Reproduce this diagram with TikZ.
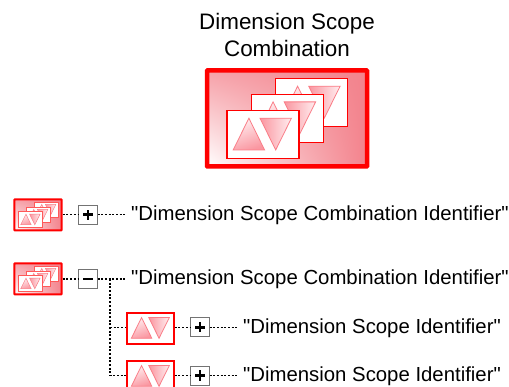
\documentclass[tikz,border=0pt]{standalone}
\usetikzlibrary{shadings}
\usepackage{fontspec}
\setmainfont{Liberation Sans}[Ligatures=TeXOff]
\definecolor{rd}{RGB}{255,0,0}
\definecolor{sal}{RGB}{243,130,140}
\definecolor{tri}{RGB}{250,125,135}
\definecolor{trid}{RGB}{250,150,160}
\definecolor{tril}{RGB}{255,238,240}
\tikzset{
  conn/.style={line width=1.2pt,dash pattern=on 2pt off 1.7pt,black},
  lab/.style={inner sep=0pt,font=\fontsize{20.35}{24}\selectfont,anchor=base west,text=black},
  btn/.style={draw=black!55!white,line width=1pt,fill=white,minimum width=19pt,minimum height=19pt,inner sep=0pt,outer sep=0pt},
  iconbox/.style={minimum width=48.4pt,minimum height=32pt,inner sep=0pt,outer sep=0pt,draw=none},
}
\newcommand{\ucard}[6][rd]{% [colour] x y scale border tri-stroke
 \begin{scope}[shift={(#2,#3)},x=#4pt,y=-#4pt]
  \draw[#1,fill=white,line width=#5pt] (0,0) rectangle (73.3,48.7);
  \shade[left color=tril,right color=trid,shading angle=20]
     (6.3,40)--(22.3,7.6)--(38.3,40)--cycle;
  \draw[tri,line width=#6pt] (6.3,40)--(22.3,7.6)--(38.3,40)--cycle;
  \shade[shading angle=-30,left color=trid,right color=tril]
     (33.6,7.6)--(65.6,7.6)--(49.6,40)--cycle;
  \draw[tri,line width=#6pt] (33.6,7.6)--(65.6,7.6)--(49.6,40)--cycle;
 \end{scope}}
\newcommand{\ubg}[5]{% x y w h lw
  \shade[lower left=white,lower right=sal,upper left=sal!75!white,upper right=sal]
     (#1,#2) rectangle ({#1+#3},{#2+#4});
  \draw[rd,line width=#5pt,rounded corners=0.6pt] (#1,#2) rectangle ({#1+#3},{#2+#4});}
\newcommand{\usmall}[1]{% y offset
  \ubg{14.3}{199.3+#1}{47.4}{31}{2}
  \ucard[rd!65!white]{34.5}{202+#1}{0.325}{0.7}{0.5}
  \ucard[rd!65!white]{26.5}{207+#1}{0.325}{0.7}{0.5}
  \ucard[rd!65!white]{18.7}{211.7+#1}{0.325}{0.7}{0.5}}
\newcommand{\mkplus}[1]{\fill[black] ([xshift=-5.2pt,yshift=-1.4pt]#1.center) rectangle ([xshift=5.2pt,yshift=1.4pt]#1.center);
 \fill[black] ([xshift=-1.4pt,yshift=-5.2pt]#1.center) rectangle ([xshift=1.4pt,yshift=5.2pt]#1.center);}
\newcommand{\mkminus}[1]{\fill[black] ([xshift=-5.2pt,yshift=-1.2pt]#1.center) rectangle ([xshift=5.2pt,yshift=1.2pt]#1.center);}
\begin{document}
\begin{tikzpicture}[x=1pt,y=-1pt]
\useasboundingbox (0,0) rectangle (509,387);
\clip (0,0) rectangle (509,387);
\node[inner sep=0pt,align=center,font=\fontsize{22.4}{27}\selectfont,anchor=base] (title) at (287,57) {Dimension Scope\\Combination};
\ubg{207}{70.5}{160}{96}{4.5}
\ucard{275.7}{78.7}{0.982}{1.3}{0.8}
\ucard{251.2}{94.4}{0.982}{1.3}{0.8}
\ucard{227}{110.7}{0.982}{1.3}{0.8}

% row 1
\usmall{0}
\node[iconbox,minimum width=49.4pt] (i1) at (38,214.8) {};
\node[btn] (b1) at (88,214.8) {};
\mkplus{b1}
\node[lab] (t1) at (131,220.8) {"Dimension Scope Combination Identifier"};
% row 2
\usmall{64}
\node[iconbox,minimum width=49.4pt] (i2) at (38,278.8) {};
\node[btn] (b2) at (88,279) {};
\mkminus{b2}
\node[lab] (t2) at (131,284.8) {"Dimension Scope Combination Identifier"};
% row 3
\ucard{127.3}{312.7}{0.64}{2}{0.8}
\node[iconbox] (i3) at (150.5,327.8) {};
\node[btn] (b3) at (200,327.3) {};
\mkplus{b3}
\node[lab] (t3) at (243,333.3) {"Dimension Scope Identifier"};
% row 4
\ucard{127.3}{360.7}{0.64}{2}{0.8}
\node[iconbox] (i4) at (150.5,375.8) {};
\node[btn] (b4) at (200,375.6) {};
\mkplus{b4}
\node[lab] (t4) at (243,381.5) {"Dimension Scope Identifier"};
\coordinate (j) at (110,279);
\coordinate (j3) at (110,327.3);
\coordinate (j4) at (110,375.6);
\tikzset{lead/.style={conn,shorten >=6pt}}
\draw[conn] (i1.east|-b1) -- (b1.west);
\draw[lead] (b1.east) -- (b1.east-|t1.west);
\draw[conn] (i2.east|-b2) -- (b2.west);
\draw[lead] (b2.east) -- (b2.east-|t2.west);
\draw[conn] (j) -- (j4) -- (j4-|i4.west);
\draw[conn] (j3) -- (j3-|i3.west);
\draw[conn] (i3.east|-b3) -- (b3.west);
\draw[lead] (b3.east) -- (b3.east-|t3.west);
\draw[conn] (i4.east|-b4) -- (b4.west);
\draw[lead] (b4.east) -- (b4.east-|t4.west);
\end{tikzpicture}
\end{document}
